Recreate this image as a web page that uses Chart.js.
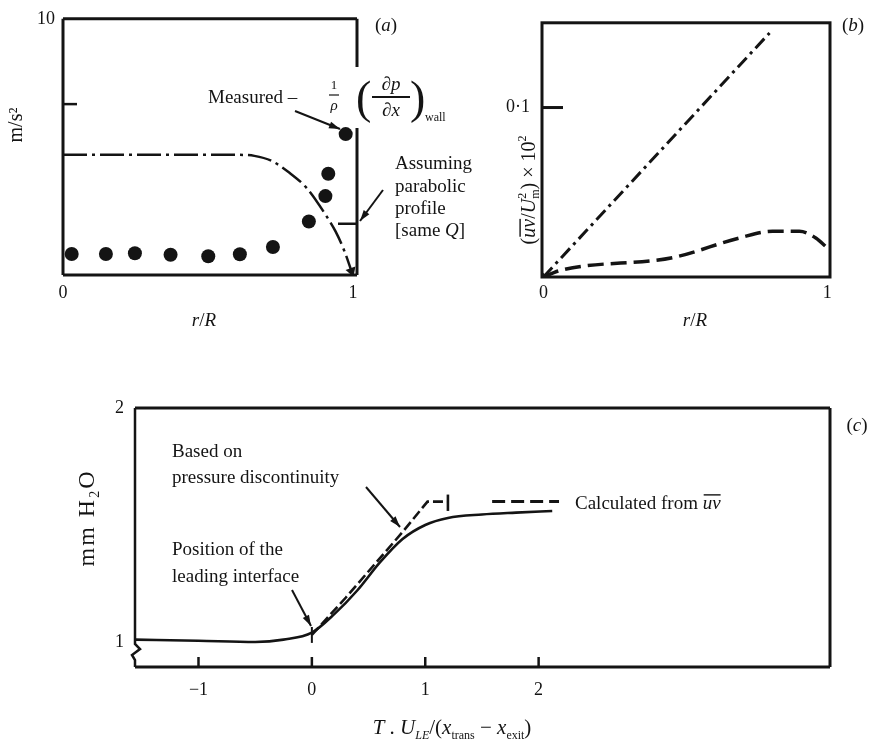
<!DOCTYPE html>
<html>
<head>
<meta charset="utf-8">
<script src="https://cdn.jsdelivr.net/npm/chart.js@4.4.0/dist/chart.umd.min.js"></script>
<style>
  body { margin: 0; background: #fff; }
  #wrap { position: relative; width: 872px; height: 744px; }
  canvas { position: absolute; left: 0; top: 0; pointer-events: none; }
</style>
</head>
<body>
<div id="wrap">
  <canvas id="chartA" width="872" height="744"></canvas>
  <canvas id="chartB" width="872" height="744"></canvas>
  <canvas id="chartC" width="872" height="744"></canvas>
</div>
<script>
const INK = '#141414';
const SERIF = '"Liberation Serif", "DejaVu Serif", serif';

// (a) measured wall pressure gradient and parabolic profile
const aMeasuredR = [0.03, 0.148, 0.248, 0.371, 0.501, 0.61, 0.724, 0.848, 0.905, 0.915, 0.975];
const aMeasured  = [0.82, 0.82, 0.85, 0.79, 0.73, 0.81, 1.09, 2.09, 3.08, 3.95, 5.5];
const aParabR = [0, 0.2, 0.4, 0.6, 0.66, 0.72, 0.78, 0.84, 0.90, 0.94, 0.97, 0.995];
const aParab  = [4.69, 4.69, 4.69, 4.69, 4.65, 4.45, 4.0, 3.4, 2.45, 1.7, 0.95, 0.15];
const aYTicks = [6.67, 10];
const aYLabels = ['', '10'];
const aXTicks = [0, 1];
const aXLabels = ['0', '1'];

// (b) shear stress profiles
const bLinearR = [0, 0.797];
const bLinear  = [0, 0.144];
const bUvR = [0, 0.06, 0.457, 0.69, 0.808, 0.902, 0.96, 0.995];
const bUv  = [0, 0.0039, 0.0115, 0.023, 0.027, 0.027, 0.023, 0.018];
const bYTicks = [0.1];
const bYLabels = ['0·1'];
const bXTicks = [0, 1];
const bXLabels = ['0', '1'];

// (c) pressure rise through the transition
const cMeasT = [-1.56, -1.0, -0.5, -0.25, 0, 0.2, 0.4, 0.6, 0.8, 1.0, 1.2, 1.5, 1.8, 2.12];
const cMeas  = [1.01, 1.005, 1.0, 1.01, 1.04, 1.12, 1.22, 1.34, 1.44, 1.50, 1.53, 1.545, 1.553, 1.56];
const cCalcT = [0, 0.3, 0.55, 0.8, 1.02, 1.2];
const cCalc  = [1.03, 1.19, 1.33, 1.47, 1.6, 1.6];
const cEndT = [1.2, 1.2];
const cEnd  = [1.56, 1.63];
const cKeyT = [1.59, 2.18];
const cKey  = [1.6, 1.6];
const cMarkT = [0, 0];
const cMark  = [0.996, 1.064];
const cYTicks = [1, 2];
const cYLabels = ['1', '2'];
const cXTicks = [-1, 0, 1, 2];
const cXLabels = ['−1', '0', '1', '2'];

const pts = (xs, ys) => xs.map((x, i) => ({ x: x, y: ys[i] }));

function fnt(size, italic) {
  return (italic ? 'italic ' : '') + size + 'px ' + SERIF;
}

function txt(ctx, s, x, y, size, italic, align) {
  ctx.save();
  ctx.font = fnt(size, italic);
  ctx.textAlign = align || 'left';
  ctx.textBaseline = 'middle';
  ctx.fillStyle = INK;
  ctx.fillText(s, x, y);
  ctx.restore();
}

// draw a row of text runs on a baseline; adv:false means no advance
function runs(ctx, list, x, y, align) {
  ctx.save();
  ctx.fillStyle = INK;
  ctx.textBaseline = 'alphabetic';
  ctx.textAlign = 'left';
  let w = 0;
  list.forEach(r => {
    ctx.font = fnt(r.size, r.italic);
    r.w = ctx.measureText(r.t).width;
    if (r.adv !== false) w += r.w;
  });
  let cx = align === 'center' ? x - w / 2 : x;
  list.forEach(r => {
    ctx.font = fnt(r.size, r.italic);
    ctx.fillText(r.t, cx, y + (r.dy || 0));
    if (r.over) ctx.fillRect(cx + 1, y + (r.dy || 0) - r.size * 0.78, r.w - 1, 1.4);
    if (r.adv !== false) cx += r.w;
  });
  ctx.restore();
}

function seg(ctx, x1, y1, x2, y2, w) {
  ctx.save();
  ctx.strokeStyle = INK;
  ctx.lineWidth = w || 2.5;
  ctx.beginPath();
  ctx.moveTo(x1, y1);
  ctx.lineTo(x2, y2);
  ctx.stroke();
  ctx.restore();
}

function arrow(ctx, x1, y1, x2, y2) {
  seg(ctx, x1, y1, x2, y2, 2);
  const a = Math.atan2(y2 - y1, x2 - x1);
  const L = 11, H = 3.5;
  ctx.save();
  ctx.fillStyle = INK;
  ctx.beginPath();
  ctx.moveTo(x2, y2);
  ctx.lineTo(x2 - L * Math.cos(a) + H * Math.sin(a), y2 - L * Math.sin(a) - H * Math.cos(a));
  ctx.lineTo(x2 - L * Math.cos(a) - H * Math.sin(a), y2 - L * Math.sin(a) + H * Math.cos(a));
  ctx.closePath();
  ctx.fill();
  ctx.restore();
}

function axis(min, max, vals, labels, pad, fix, isX) {
  return {
    type: 'linear', min: min, max: max,
    grid: { display: false, drawTicks: false },
    border: { display: false },
    ticks: {
      padding: pad, autoSkip: false, maxRotation: 0,
      font: { size: 18, family: SERIF }, color: INK,
      callback: (v, i) => labels[i] || ''
    },
    afterBuildTicks: s => { s.ticks = vals.map(v => ({ value: v })); },
    afterFit: s => { if (isX) s.height = fix; else s.width = fix; }
  };
}

function makeChart(id, datasets, scales, padding, decor) {
  return new Chart(document.getElementById(id), {
    type: 'scatter',
    data: { datasets: datasets },
    options: {
      responsive: false,
      animation: false,
      layout: { padding: padding },
      plugins: { legend: { display: false }, tooltip: { enabled: false } },
      scales: scales
    },
    plugins: [{ id: 'decor' + id, afterDraw: chart => decor(chart, chart.ctx) }]
  });
}

// ---------- (a) ----------
makeChart('chartA', [
  {
    data: pts(aMeasuredR, aMeasured),
    pointRadius: 7, backgroundColor: INK, borderWidth: 0
  },
  {
    data: pts(aParabR, aParab),
    showLine: true, borderColor: INK, borderWidth: 2.5,
    borderDash: [24, 5, 3, 5], cubicInterpolationMode: 'monotone',
    pointRadius: aParabR.map((_, i) => i === aParabR.length - 1 ? 6 : 0),
    pointStyle: 'triangle', rotation: 160,
    backgroundColor: INK, pointBorderWidth: 0
  }
], {
  x: axis(0, 1.014, aXTicks, aXLabels, 7, 40, true),
  y: axis(0, 10, aYTicks, aYLabels, 8, 30, false)
}, { left: 33, top: 15, right: 515, bottom: 429 }, (chart, ctx) => {
  const a = chart.chartArea, ys = chart.scales.y;
  seg(ctx, a.left, a.top, a.right, a.top, 3);
  seg(ctx, a.left, a.top, a.left, a.bottom, 3);
  seg(ctx, a.left, a.bottom, a.right, a.bottom, 3);
  seg(ctx, a.right, a.top, a.right, 67, 3);
  seg(ctx, a.right, 128, a.right, a.bottom, 3);
  const t = ys.getPixelForValue(aYTicks[0]);
  seg(ctx, a.left, t, a.left + 14, t, 2.5);
  const lead = ys.getPixelForValue(2.0);
  seg(ctx, a.right - 19, lead, a.right, lead, 2.5);

  ctx.save();
  ctx.translate(17, 125);
  ctx.rotate(-Math.PI / 2);
  txt(ctx, 'm/s²', 0, 0, 20, false, 'center');
  ctx.restore();
  runs(ctx, [{ t: 'r', size: 19, italic: true }, { t: '/', size: 19 }, { t: 'R', size: 19, italic: true }], 204, 326, 'center');
  runs(ctx, [{ t: '(', size: 19 }, { t: 'a', size: 19, italic: true }, { t: ')', size: 19 }], 386, 31, 'center');

  runs(ctx, [{ t: 'Measured –', size: 19 }], 208, 103);
  txt(ctx, '1', 334, 86, 13, false, 'center');
  seg(ctx, 329, 95, 339, 95, 1.2);
  txt(ctx, 'ρ', 334, 106, 15, true, 'center');
  runs(ctx, [{ t: '(', size: 46 }], 356, 113);
  runs(ctx, [{ t: '∂p', size: 19, italic: true }], 391, 90, 'center');
  seg(ctx, 372, 97, 410, 97, 2);
  runs(ctx, [{ t: '∂x', size: 19, italic: true }], 391, 116, 'center');
  runs(ctx, [{ t: ')', size: 46 }], 410, 113);
  runs(ctx, [{ t: 'wall', size: 12 }], 425, 121);

  runs(ctx, [{ t: 'Assuming', size: 19 }], 395, 169);
  runs(ctx, [{ t: 'parabolic', size: 19 }], 395, 192);
  runs(ctx, [{ t: 'profile', size: 19 }], 395, 214);
  runs(ctx, [{ t: '[same ', size: 19 }, { t: 'Q', size: 19, italic: true }, { t: ']', size: 19 }], 395, 236);

  arrow(ctx, 295, 111, 340, 129);
  arrow(ctx, 383, 190, 360, 221);
});

// ---------- (b) ----------
makeChart('chartB', [
  {
    data: pts(bLinearR, bLinear),
    showLine: true, borderColor: INK, borderWidth: 3,
    borderDash: [13, 5, 3, 5],
    pointRadius: bLinearR.map((_, i) => i === 0 ? 6 : 0),
    pointStyle: 'triangle', rotation: 222,
    backgroundColor: INK, pointBorderWidth: 0
  },
  {
    data: pts(bUvR, bUv),
    showLine: true, borderColor: INK, borderWidth: 3.5,
    borderDash: [16, 7], cubicInterpolationMode: 'monotone',
    pointRadius: 0
  }
], {
  x: axis(-0.005, 1.01, bXTicks, bXLabels, 5, 40, true),
  y: axis(0, 0.15, bYTicks, bYLabels, 12, 60, false)
}, { left: 482, top: 17, right: 42, bottom: 427 }, (chart, ctx) => {
  const a = chart.chartArea, ys = chart.scales.y;
  ctx.save();
  ctx.strokeStyle = INK;
  ctx.lineWidth = 3;
  ctx.strokeRect(a.left, a.top, a.right - a.left, a.bottom - a.top);
  ctx.restore();
  const t = ys.getPixelForValue(bYTicks[0]);
  seg(ctx, a.left, t, a.left + 21, t, 3);

  runs(ctx, [{ t: '(', size: 19 }, { t: 'b', size: 19, italic: true }, { t: ')', size: 19 }], 853, 31, 'center');
  runs(ctx, [{ t: 'r', size: 19, italic: true }, { t: '/', size: 19 }, { t: 'R', size: 19, italic: true }], 695, 326, 'center');

  ctx.save();
  ctx.translate(528, 190);
  ctx.rotate(-Math.PI / 2);
  runs(ctx, [
    { t: '(', size: 20 },
    { t: 'uv', size: 20, italic: true, over: true },
    { t: '/', size: 20 },
    { t: 'U', size: 20, italic: true },
    { t: '2', size: 12, dy: -9, adv: false },
    { t: 'm', size: 12, dy: 4 },
    { t: ') × 10', size: 20 },
    { t: '2', size: 12, dy: -9 }
  ], 0, 7, 'center');
  ctx.restore();
});

// ---------- (c) ----------
makeChart('chartC', [
  {
    data: pts(cMeasT, cMeas),
    showLine: true, borderColor: INK, borderWidth: 2.6,
    cubicInterpolationMode: 'monotone', pointRadius: 0
  },
  {
    data: pts(cCalcT, cCalc),
    showLine: true, borderColor: INK, borderWidth: 2.6,
    borderDash: [10, 4], pointRadius: 0
  },
  {
    data: pts(cEndT, cEnd),
    showLine: true, borderColor: INK, borderWidth: 2.6, pointRadius: 0
  },
  {
    data: pts(cKeyT, cKey),
    showLine: true, borderColor: INK, borderWidth: 3,
    borderDash: [13, 6], pointRadius: 0
  },
  {
    data: pts(cMarkT, cMark),
    showLine: true, borderColor: INK, borderWidth: 2, pointRadius: 0
  }
], {
  x: axis(-1.56, 4.57, cXTicks, cXLabels, 12, 40, true),
  y: axis(0.893, 2, cYTicks, cYLabels, 11, 30, false)
}, { left: 105, top: 408, right: 42, bottom: 37 }, (chart, ctx) => {
  const a = chart.chartArea, xs = chart.scales.x;
  seg(ctx, a.left, a.top, a.right, a.top, 3);
  seg(ctx, a.right, a.top, a.right, a.bottom, 3);
  seg(ctx, a.left, a.bottom, a.right, a.bottom, 3);
  // broken-axis zigzag on the left border
  ctx.save();
  ctx.strokeStyle = INK;
  ctx.lineWidth = 2.5;
  ctx.beginPath();
  ctx.moveTo(a.left, a.top);
  ctx.lineTo(a.left, 644);
  ctx.lineTo(a.left + 5, 649);
  ctx.lineTo(a.left - 3, 655);
  ctx.lineTo(a.left, 660);
  ctx.lineTo(a.left, a.bottom);
  ctx.stroke();
  ctx.restore();
  cXTicks.forEach(v => {
    const p = xs.getPixelForValue(v);
    seg(ctx, p, a.bottom, p, a.bottom - 10, 2.5);
  });

  runs(ctx, [{ t: '(', size: 19 }, { t: 'c', size: 19, italic: true }, { t: ')', size: 19 }], 857, 431, 'center');

  ctx.save();
  ctx.translate(86, 518);
  ctx.rotate(-Math.PI / 2);
  ctx.letterSpacing = '2px';
  runs(ctx, [
    { t: 'mm H', size: 24 },
    { t: '2', size: 14, dy: 5 },
    { t: 'O', size: 24 }
  ], 0, 8, 'center');
  ctx.restore();

  runs(ctx, [
    { t: 'T', size: 21, italic: true },
    { t: ' . ', size: 21 },
    { t: 'U', size: 21, italic: true },
    { t: 'LE', size: 12, italic: true, dy: 5 },
    { t: '/(', size: 21 },
    { t: 'x', size: 21, italic: true },
    { t: 'trans', size: 12, dy: 5 },
    { t: ' − ', size: 21 },
    { t: 'x', size: 21, italic: true },
    { t: 'exit', size: 12, dy: 5 },
    { t: ')', size: 21 }
  ], 452, 734, 'center');

  txt(ctx, 'Based on', 172, 452, 19);
  txt(ctx, 'pressure discontinuity', 172, 478, 19);
  txt(ctx, 'Position of the', 172, 550, 19);
  txt(ctx, 'leading interface', 172, 577, 19);
  runs(ctx, [{ t: 'Calculated from ', size: 19 }, { t: 'uv', size: 19, italic: true, over: true }], 575, 509);

  arrow(ctx, 366, 487, 400, 527);
  arrow(ctx, 292, 590, 311, 626);
});
</script>
</body>
</html>
